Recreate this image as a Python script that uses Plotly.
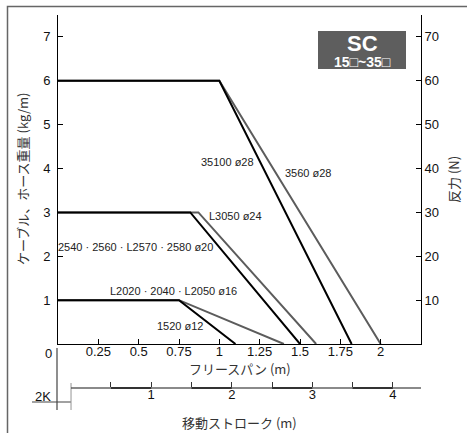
import plotly.graph_objects as go

# ---------------- data ----------------
span_6_black = [0, 1.0, 1.82]
span_6_gray = [0, 1.0, 2.0]
weight_6 = [6, 6, 0]

span_3_black = [0, 0.82, 1.5]
span_3_gray = [0, 0.87, 1.6]
weight_3 = [3, 3, 0]

span_1_black = [0, 0.75, 1.1]
span_1_gray = [0, 0.75, 1.4]
weight_1 = [1, 1, 0]

series_labels = ["35100 ø28", "3560 ø28", "L3050 ø24",
                 "2540 · 2560 · L2570 · 2580 ø20",
                 "L2020 · 2040 · L2050 ø16", "1520 ø12"]
label_x = [1.052, 1.548, 1.102, 0.482, 0.717, 0.754]
label_y = [4.15, 3.90, 2.92, 2.21, 1.21, 0.41]

x_ticks = [0.25, 0.5, 0.75, 1, 1.25, 1.5, 1.75, 2]
x_ticktext = ["0.25", "0.5", "0.75", "1", "1.25", "1.5", "1.75", "2"]
y_ticks = [1, 2, 3, 4, 5, 6, 7]
y2_ticks = [10, 20, 30, 40, 50, 60, 70]
stroke_ticks = [0.5, 1, 1.5, 2, 2.5, 3, 3.5, 4]
stroke_ticktext = ["", "1", "", "2", "", "3", "", "4"]
stroke_dark = [(0.5, 1), (1.5, 2), (2.5, 3), (3.5, 4)]

FONT = "Arial, 'Liberation Sans', 'Noto Sans CJK JP', sans-serif"
JFONT = "'Noto Sans CJK JP', Arial, sans-serif"
BLACK = "#000000"
GRAY = "#5c5c5c"

fig = go.Figure()
for xs, ys, col in [(span_6_gray, weight_6, GRAY), (span_3_gray, weight_3, GRAY),
                    (span_1_gray, weight_1, GRAY), (span_6_black, weight_6, BLACK),
                    (span_3_black, weight_3, BLACK), (span_1_black, weight_1, BLACK)]:
    fig.add_trace(go.Scatter(x=xs, y=ys, mode="lines", line=dict(color=col, width=2),
                             showlegend=False, hoverinfo="skip", cliponaxis=False))

W, H = 467, 433
ML, MR, MT, MB = 58, 46, 15, 0
ph = H - MT - MB
ydom0 = (H - MB - 344) / ph
stroke_pos = (H - MB - 388) / ph
def py(p):
    return (H - MB - p) / ph
def px(p):
    return (p - ML) / (W - ML - MR)

stroke_dom0 = px(70.7)

fig.update_layout(
    width=W, height=H,
    margin=dict(l=ML, r=MR, t=MT, b=MB, autoexpand=False),
    paper_bgcolor="white", plot_bgcolor="rgba(0,0,0,0)",
    font=dict(family=FONT, size=13, color="#111"),
    showlegend=False,
    xaxis=dict(domain=[0, 1], range=[0, 2.25], showgrid=False, zeroline=False,
               showline=True, linecolor="black", linewidth=1,
               ticks="inside", ticklen=5, tickcolor="black",
               tickvals=x_ticks, ticktext=x_ticktext, anchor="y",
               tickfont=dict(size=13), automargin=False, ticklabelstandoff=-5),
    yaxis=dict(domain=[ydom0, 1], range=[0, 7.5], showgrid=False, zeroline=False,
               showline=True, linecolor="black", linewidth=1,
               ticks="inside", ticklen=5, tickcolor="black",
               tickvals=y_ticks, tickfont=dict(size=13), automargin=False,
               ticklabelstandoff=4),
    yaxis2=dict(overlaying="y", side="right", range=[0, 75], showgrid=False,
                zeroline=False, showline=True, linecolor="black", linewidth=1,
                ticks="inside", ticklen=5, tickcolor="black",
                tickvals=y2_ticks, tickfont=dict(size=13), anchor="x", automargin=False),
    xaxis2=dict(domain=[stroke_dom0, 1], range=[0, (2.25 - 0.075) * 2],
                anchor="free", position=stroke_pos, side="bottom",
                showgrid=False, zeroline=False, showline=True,
                linecolor="#8a8a8a", linewidth=1.5,
                ticks="inside", ticklen=5, tickcolor="#333",
                tickvals=stroke_ticks, ticktext=stroke_ticktext,
                tickfont=dict(size=13), automargin=False, ticklabelstandoff=-5),
)

# helper traces so that the secondary axes are created
fig.add_trace(go.Scatter(x=[None], y=[None], yaxis="y2", showlegend=False, hoverinfo="skip"))
fig.add_trace(go.Scatter(x=[None], y=[None], xaxis="x2", yaxis="y", showlegend=False, hoverinfo="skip"))

shapes = []
for a, b in stroke_dark:
    shapes.append(dict(type="line", xref="x2", yref="paper", x0=a, x1=b,
                       y0=stroke_pos, y1=stroke_pos, line=dict(color="#333", width=2)))
shapes.append(dict(type="line", xref="x2", yref="paper", x0=0, x1=0,
                   y0=py(383), y1=py(410), line=dict(color="#444", width=1.2)))
shapes.append(dict(type="line", xref="paper", yref="paper", x0=px(57), x1=px(57),
                   y0=py(348), y1=py(410), line=dict(color="#444", width=1.2)))
shapes.append(dict(type="line", xref="paper", yref="paper", x0=px(32), x1=px(70.7),
                   y0=py(402), y1=py(402), line=dict(color="#444", width=1.2)))
shapes.append(dict(type="rect", xref="paper", yref="paper", x0=px(7.5), x1=px(520),
                   y0=py(520), y1=py(6.5), line=dict(color="#666", width=1.5)))
shapes.append(dict(type="rect", xref="paper", yref="paper", x0=px(318), x1=px(406),
                   y0=py(69), y1=py(31), fillcolor="#5e5e5e", line=dict(width=0)))
fig.update_layout(shapes=shapes)

def A(text, x, y, size=13, family=FONT, color="#111", xref="paper", yref="paper", **kw):
    return dict(text=text, x=x, y=y, xref=xref, yref=yref, showarrow=False,
                xanchor="center", yanchor="middle",
                font=dict(size=size, family=family, color=color, **kw.pop("fkw", {})), **kw)

ann = []
for t, x, y in zip(series_labels, label_x, label_y):
    ann.append(A(t, x, y, size=11, color="#222", xref="x", yref="y"))
ann += [
    A("SC", px(362), py(44), size=22, family="Arial, 'Liberation Sans'", color="white",
      fkw=dict(weight="bold")),
    A("15□~35□", px(362), py(61.5), size=14, color="white", fkw=dict(weight="bold")),
    A("0", px(48), py(353)),
    A("2K", px(43), py(396)),
    A("フリースパン (m)", px(240), py(368), family=JFONT, color="#333"),
    A("移動ストローク (m)", px(240), py(422), family=JFONT, color="#333"),
    A("ケーブル、ホース重量 (kg/m)", px(22), py(179), family=JFONT, color="#333", textangle=-90),
    A("反力 (N)", px(453), py(180), family=JFONT, color="#333", textangle=-90),
]
fig.update_layout(annotations=ann)

fig.write_html("out.html", config={"displayModeBar": False},
               post_script="document.body.style.margin='0';document.body.style.overflow='hidden';")
